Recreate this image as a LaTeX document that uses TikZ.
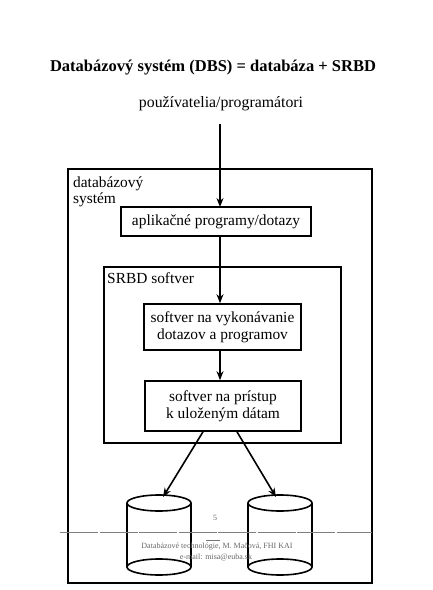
\documentclass[tikz,border=0pt]{standalone}
\usepackage{fontspec}
\setmainfont{Liberation Serif}
\usetikzlibrary{arrows.meta}
\begin{document}
\begin{tikzpicture}[x=1pt,y=-1pt,
  box/.style={draw,line width=1.6pt,inner sep=0pt,font=\fontsize{15.4}{17.5}\selectfont},
  arr/.style={line width=1.6pt,-{Stealth[length=9pt,width=7pt]}},
  cyl/.style={line width=1.6pt},
  lbl/.style={font=\fontsize{15.4}{16}\selectfont,inner sep=0pt},
  foot/.style={font=\fontsize{8}{9}\selectfont,text=black!60}]
\useasboundingbox (0,0) rectangle (432,590);
% title
\node[font=\fontsize{16.5}{18}\selectfont\bfseries] (title) at (213,68) {Databázový systém (DBS) = databáza + SRBD};
\node[font=\fontsize{15.8}{18}\selectfont] (users) at (221,104) {používatelia/programátori};
% outer box
\node[draw,line width=2pt,minimum width=304pt,minimum height=414pt,inner sep=0pt] (outer) at (220,376) {};
\node[anchor=north west,align=left,lbl] (dbslabel) at (73,177) {databázový\\systém};
% app box
\node[box,minimum width=190pt,minimum height=29pt] (app) at (216,221.5) {aplikačné programy/dotazy};
% SRBD box
\node[draw,line width=1.6pt,minimum width=237pt,minimum height=176pt,inner sep=0pt] (srbd) at (222.5,355) {};
\node[anchor=north west,lbl] (srbdlabel) at (107,272) {SRBD softver};
% inner boxes
\node[box,minimum width=157pt,minimum height=46pt,align=center] (exec) at (222.5,327) {softver na vykonávanie\\dotazov a programov};
\node[box,minimum width=156pt,minimum height=50pt,align=center] (access) at (223,406) {softver na prístup\\k uloženým dátam};
% cylinders
\coordinate (c1) at (159,503);
\coordinate (c2) at (280,503);
\foreach \c in {c1,c2}{
  \draw[cyl] ([xshift=-32pt]\c) -- ([xshift=-32pt,yshift=-64pt]\c);
  \draw[cyl] ([xshift=32pt]\c) -- ([xshift=32pt,yshift=-64pt]\c);
  \draw[cyl] (\c) ellipse [x radius=32pt,y radius=-8pt];
  \draw[cyl] ([yshift=-64pt]\c) ellipse [x radius=32pt,y radius=-8pt];
}
\coordinate (t1) at (163,497);
\coordinate (t2) at (276,497);
% arrows
\coordinate (u0) at (220,124);
\draw[arr] (u0) -- (220,207);
\draw[arr] (app.south -| 220,0) -- (exec.north -| 220,0);
\draw[arr] (exec.south -| 220,0) -- (access.north -| 220,0);
\draw[arr] (access.south -| 203,0) -- (t1);
\draw[arr] (access.south -| 237,0) -- (t2);
% footer
\node[foot] (pagenum) at (215,518) {5};
\draw[black!50,line width=0.8pt,dash pattern=on 38pt off 1.5pt] (60,532) coordinate (l0) -- (372,532) coordinate (l1);
\draw[black!55,line width=0.6pt] (206,540) coordinate (s0) -- (220,540) coordinate (s1);
\node[foot] (foot1) at (217,547) {Databázové technológie, M. Mačová, FHI KAI};
\node[foot] (foot2) at (216,557) {e-mail: misa@euba.sk};
\end{tikzpicture}
\end{document}
